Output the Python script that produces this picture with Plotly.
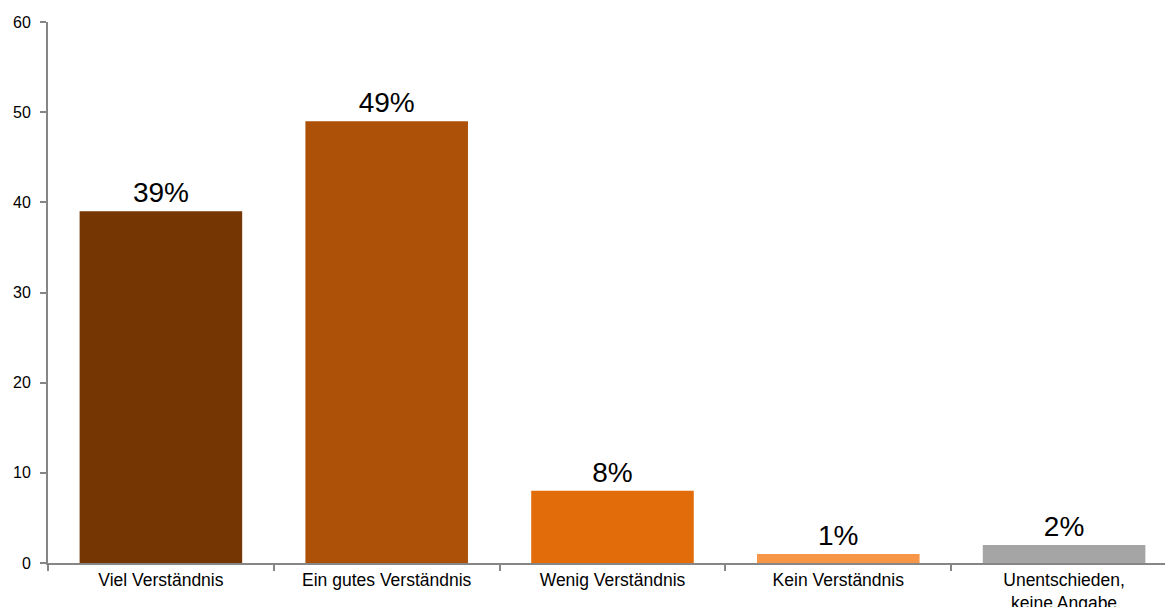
import plotly.graph_objects as go

categories = ["Viel Verständnis", "Ein gutes Verständnis", "Wenig Verständnis",
              "Kein Verständnis", "Unentschieden,<br>keine Angabe"]
values = [39, 49, 8, 1, 2]
labels = ["39%", "49%", "8%", "1%", "2%"]
colors = ["#753603", "#AD5108", "#E36C0A", "#F79646", "#A5A5A5"]
y_ticks = [0, 10, 20, 30, 40, 50, 60]

FONT = "Arial, 'Liberation Sans', sans-serif"

fig = go.Figure(go.Bar(
    x=categories, y=values, marker=dict(color=colors, line=dict(width=0)),
    text=labels, textposition="outside", cliponaxis=False,
    textfont=dict(size=28, color="#000000", family=FONT),
    width=0.72,
))

fig.update_layout(
    width=1165, height=607,
    margin=dict(l=48, r=0, t=22, b=44, pad=0),
    paper_bgcolor="white", plot_bgcolor="white",
    showlegend=False,
    font=dict(family=FONT, color="#000000"),
    xaxis=dict(
        type="category", range=[-0.5, 4.447], automargin=False,
        showline=True, linecolor="#868686", linewidth=2,
        ticks="outside", tickson="boundaries", ticklen=6, tickcolor="#868686", tickwidth=1.5,
        tickfont=dict(size=17.5, color="#000000", family=FONT),
        showgrid=False, zeroline=False,
    ),
    yaxis=dict(
        range=[0, 60], tickvals=y_ticks, automargin=False,
        showline=True, linecolor="#868686", linewidth=2,
        ticks="outside", ticklen=6, tickcolor="#868686", tickwidth=1.5,
        tickfont=dict(size=16, color="#000000", family=FONT),
        showgrid=False, zeroline=False, ticklabelstandoff=6,
    ),
)

fig.write_html("out.html")
